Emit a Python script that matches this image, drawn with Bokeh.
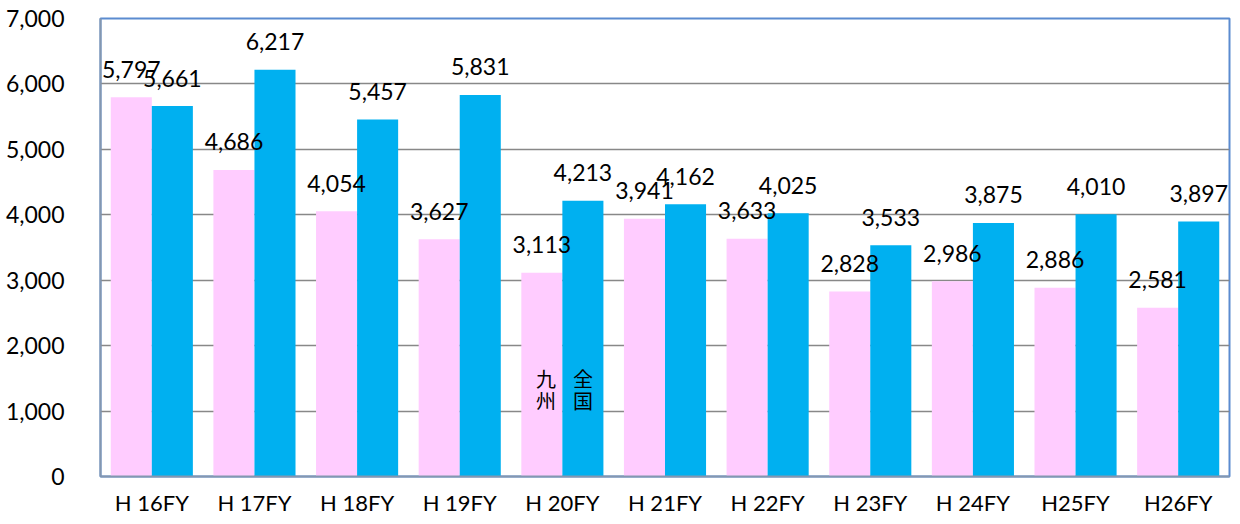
from bokeh.plotting import figure
from bokeh.models import ColumnDataSource, FactorRange, SingleIntervalTicker, NumeralTickFormatter, Range1d
from bokeh.transform import dodge
from bokeh.core.properties import value
from bokeh.embed import file_html
from bokeh.resources import INLINE

categories = ["H 16FY", "H 17FY", "H 18FY", "H 19FY", "H 20FY", "H 21FY",
              "H 22FY", "H 23FY", "H 24FY", "H25FY", "H26FY"]
kyushu = [5797, 4686, 4054, 3627, 3113, 3941, 3633, 2828, 2986, 2886, 2581]
zenkoku = [5661, 6217, 5457, 5831, 4213, 4162, 4025, 3533, 3875, 4010, 3897]

series_cat = "H 20FY"
kyushu_chars = ["九", "州"]
zenkoku_chars = ["全", "国"]
char_y = [1500, 1160]

src = ColumnDataSource(dict(
    cat=categories, k=kyushu, z=zenkoku,
    kl=[f"{v:,}" for v in kyushu], zl=[f"{v:,}" for v in zenkoku],
))

FONT = "Lato"

p = figure(x_range=FactorRange(*categories), y_range=Range1d(0, 7000),
           width=1240, height=524, output_backend="svg", toolbar_location=None,
           min_border_left=100, min_border_right=11, min_border_top=18, min_border_bottom=48)

p.vbar(x=dodge("cat", -0.2, range=p.x_range), top="k", width=0.4, source=src,
       fill_color="#FFCCFF", line_color=None)
p.vbar(x=dodge("cat", 0.2, range=p.x_range), top="z", width=0.4, source=src,
       fill_color="#00B0F0", line_color=None)

p.text(x=dodge("cat", -0.2, range=p.x_range), y="k", text="kl", source=src,
       text_align="center", text_baseline="middle", y_offset=-28,
       text_font=value(FONT), text_font_size="23px", text_color="#000000")
p.text(x=dodge("cat", 0.2, range=p.x_range), y="z", text="zl", source=src,
       text_align="center", text_baseline="middle", y_offset=-28,
       text_font=value(FONT), text_font_size="23px", text_color="#000000")

# series labels inside H20FY bars
lab = ColumnDataSource(dict(x=[series_cat] * 2, y=char_y, t=kyushu_chars))
lab2 = ColumnDataSource(dict(x=[series_cat] * 2, y=char_y, t=zenkoku_chars))
p.text(x=dodge("x", -0.16, range=p.x_range), y="y", text="t", source=lab,
       text_align="center", text_baseline="middle",
       text_font=value("Noto Sans CJK JP"), text_font_size="20px", text_color="#000000")
p.text(x=dodge("x", 0.2, range=p.x_range), y="y", text="t", source=lab2,
       text_align="center", text_baseline="middle",
       text_font=value("Noto Sans CJK JP"), text_font_size="20px", text_color="#000000")

p.yaxis.ticker = SingleIntervalTicker(interval=1000)
p.yaxis.formatter = NumeralTickFormatter(format="0,0")
p.yaxis.major_tick_line_color = None
p.yaxis.minor_tick_line_color = None
p.yaxis.axis_line_color = "#8497B0"
p.yaxis.axis_line_width = 2
p.yaxis.major_label_text_font = FONT
p.yaxis.major_label_text_font_size = "23px"
p.yaxis.major_label_text_color = "#000000"
p.yaxis.major_label_standoff = 30

p.xaxis.major_tick_line_color = None
p.xaxis.minor_tick_line_color = None
p.xaxis.axis_line_color = "#8497B0"
p.xaxis.axis_line_width = 2
p.xaxis.major_label_text_font = FONT
p.xaxis.major_label_text_font_size = "22px"
p.xaxis.major_label_text_color = "#000000"
p.xaxis.major_label_standoff = 6

p.xgrid.grid_line_color = None
p.ygrid.grid_line_color = "#888888"
p.ygrid.grid_line_width = 1.5

p.outline_line_color = "#5B8BD0"
p.outline_line_width = 2
p.x_range.range_padding = 0
p.x_range.group_padding = 0

open("out.html", "w").write(file_html(p, INLINE))
